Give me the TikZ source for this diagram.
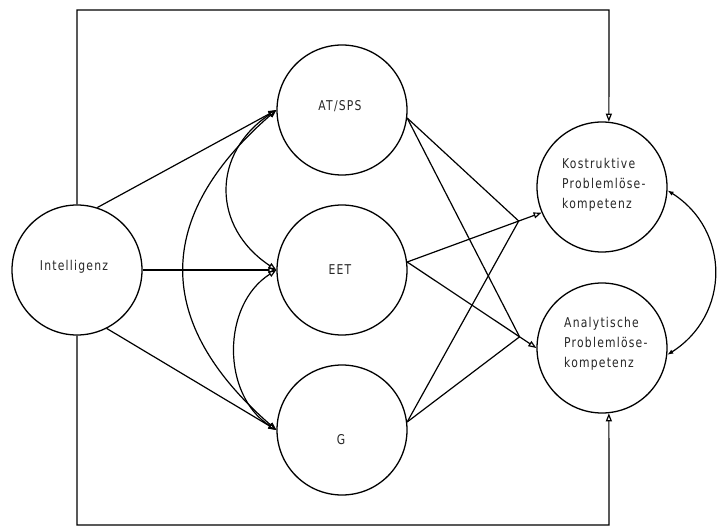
\documentclass[tikz,border=0pt]{standalone}
\usepackage{fontspec}
\setmainfont{DejaVu Sans}[FakeStretch=0.8,LetterSpace=9]
\usetikzlibrary{arrows.meta,calc}
\begin{document}
\begin{tikzpicture}[x=1pt,y=-1pt,
  circ/.style={circle,draw,line width=1.3pt,minimum size=130pt,inner sep=0pt},
  lab/.style={font=\fontsize{13.5}{20}\selectfont,text=black!85,align=left,inner sep=0pt},
  con/.style={line width=1.2pt},
  oa/.style={-{Triangle[open,length=8pt,width=6pt]}},
  oab/.style={{Triangle[open,length=8pt,width=6pt]}-{Triangle[open,length=8pt,width=6pt]}},
  fab/.style={{Latex[length=6pt,width=4.5pt]}-{Latex[length=6pt,width=4.5pt]}}]
\useasboundingbox (0,0) rectangle (717,529);
% circles
\node[circ] (I) at (77,270) {};
\node[circ] (A) at (342,110) {};
\node[circ] (E) at (342,270) {};
\node[circ] (G) at (342,430) {};
\node[circ] (K) at (602,187) {};
\node[circ] (An) at (602,348) {};
% labels
\node[lab] (tI) at (74,267) {Intelligenz};
\node[lab] (tA) at (340,106) {AT/SPS};
\node[lab] (tE) at (340,270) {EET};
\node[lab] (tG) at (341,440) {G};
\node[lab,anchor=west] (tK) at (562,185) {Kostruktive\\Problemlöse-\\kompetenz};
\node[lab,anchor=west] (tAn) at (564,344) {Analytische\\Problemlöse-\\kompetenz};
% frame connectors
\coordinate (tl) at (77,10);
\coordinate (tr) at (609,10);
\coordinate (bl) at (77,525);
\coordinate (br) at (609,525);
\draw[con,oa] (I.north) -- (tl) -- (tr) -- (K.84);
\draw[con,oa] (I.south) -- (bl) -- (br) -- (An.-84);
% intelligence to middle column
\draw[con,oa] (I.72) -- (A.west);
\draw[con,oa] (I.east) -- (E.west);
\draw[con,oa] (I.-63) -- (G.west);
% covariances
\draw[con,oab] (A.west) .. controls +(-65,43) and +(-65,-43) .. (E.west);
\draw[con,oab] (E.west) .. controls +(-55,35) and +(-55,-35) .. (G.west);
\draw[con,oab] (A.west) .. controls +(-123,107) and +(-123,-107) .. (G.west);
% middle column to outcomes
\coordinate (kj) at ($(E.7)!0.83!(K.203)$);
\coordinate (aj) at ($(E.7)!0.87!(An.180)$);
\draw[con,oa] (E.7) -- (K.203);
\draw[con,oa] (E.7) -- (An.180);
\draw[con] (A.-7) -- (kj);
\draw[con] (G.7) -- (kj);
\draw[con] (A.-7) -- (aj);
\draw[con] (G.7) -- (aj);
% outcome covariance
\draw[con,fab] (K.-3) .. controls +(63,40) and +(63,-40) .. (An.-6);
\end{tikzpicture}
\end{document}
